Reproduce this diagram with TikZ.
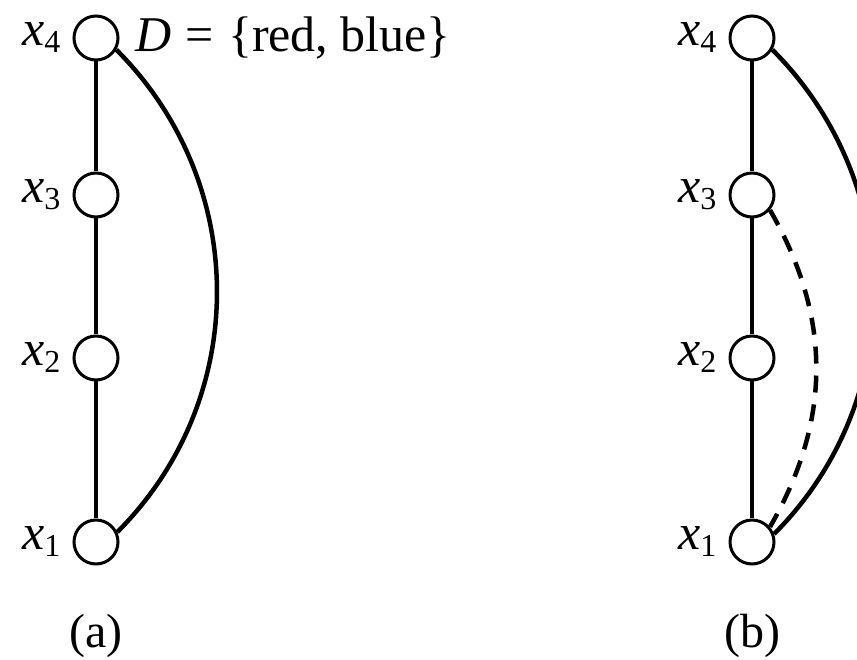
\documentclass[tikz,border=0pt]{standalone}
\usepackage{fontspec}
\setmainfont{Liberation Serif}
\usetikzlibrary{positioning}
\tikzset{
  vertex/.style={circle,draw,line width=3pt,minimum size=44pt,inner sep=0pt,fill=white},
  varlabel/.style={inner sep=0pt,font=\fontsize{50}{58}\selectfont},
  caption/.style={inner sep=0pt,font=\fontsize{48}{56}\selectfont},
  link/.style={line width=4.5pt},
  fillin/.style={link,dash pattern=on 17pt off 12pt}
}
\newcommand{\xvar}[1]{\textit{x}\raisebox{-7pt}{\fontsize{32}{34}\selectfont #1}}

\begin{document}
\begin{tikzpicture}[x=1pt,y=1pt]
\useasboundingbox (0,0) rectangle (857,659);
% (a)
\node[vertex] (ax4) at (96,621) {};
\node[vertex,below=110pt of ax4] (ax3) {};
\node[vertex,below=116pt of ax3] (ax2) {};
\node[vertex,below=137pt of ax2] (ax1) {};
\node[varlabel,left=12pt of ax4] (alx4) {\xvar{4}};
\node[varlabel,left=12pt of ax3] (alx3) {\xvar{3}};
\node[varlabel,left=12pt of ax2] (alx2) {\xvar{2}};
\node[varlabel,left=12pt of ax1] (alx1) {\xvar{1}};
\node[varlabel,right=16pt of ax4] (dom) {\textit{D}\hspace{14pt}=\hspace{14pt}\{red, blue\}};
\node[caption,below=48pt of ax1] (capa) {(a)};

% (b)
\node[vertex,right=609pt of ax4] (bx4) {};
\node[vertex,below=110pt of bx4] (bx3) {};
\node[vertex,below=116pt of bx3] (bx2) {};
\node[vertex,below=137pt of bx2] (bx1) {};
\node[varlabel,left=12pt of bx4] (blx4) {\xvar{4}};
\node[varlabel,left=12pt of bx3] (blx3) {\xvar{3}};
\node[varlabel,left=12pt of bx2] (blx2) {\xvar{2}};
\node[varlabel,left=12pt of bx1] (blx1) {\xvar{1}};
\node[caption,below=48pt of bx1] (capb) {(b)};

\draw[link] (ax4) -- (ax3);
\draw[link] (ax3) -- (ax2);
\draw[link] (ax2) -- (ax1);
\draw[link] (ax4.-30) to[out=-45,in=45] (ax1.25);

\draw[link] (bx4) -- (bx3);
\draw[link] (bx3) -- (bx2);
\draw[link] (bx2) -- (bx1);
\draw[link] (bx4.-30) to[out=-45,in=45] (bx1.20);
\draw[fillin] (bx3.-40) to[out=-60,in=60] (bx1.40);
\end{tikzpicture}
\end{document}
